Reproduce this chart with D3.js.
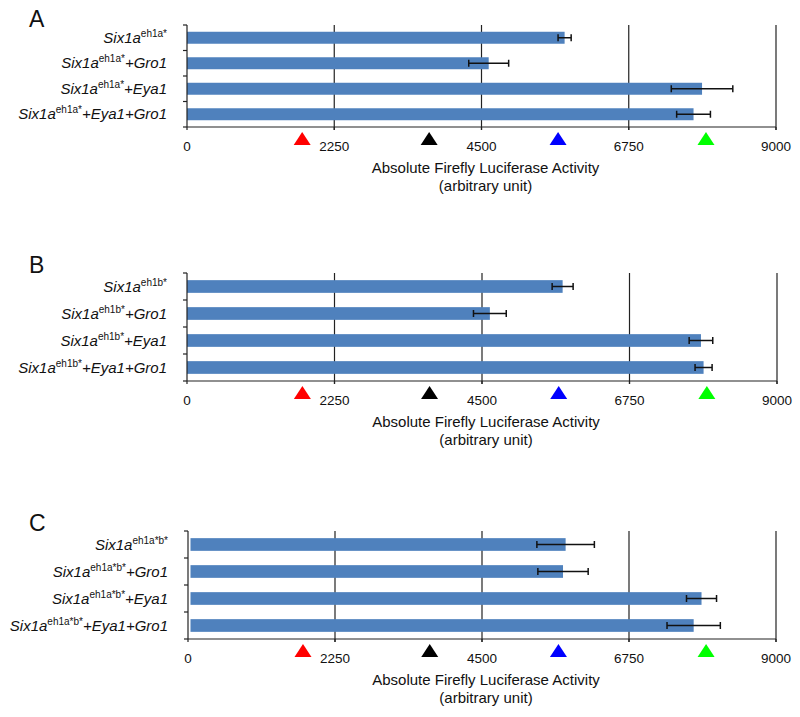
<!DOCTYPE html>
<html>
<head>
<meta charset="utf-8">
<script src="https://cdn.jsdelivr.net/npm/d3@7"></script>
<style>
  body { margin: 0; background: #fff; }
  svg { font-family: Arial, "Liberation Sans", sans-serif; }
</style>
</head>
<body>
<svg id="chart" width="800" height="717"></svg>
<script>
// values
const panels = ["A", "B", "C"];
const constructs = ["eh1a*", "eh1b*", "eh1a*b*"];
const conditions = ["", "+Gro1", "+Eya1", "+Eya1+Gro1"];
const meansA = [5770, 4610, 7870, 7740];
const errA = [100, 305, 470, 258];
const meansB = [5730, 4620, 7840, 7880];
const errB = [160, 250, 180, 130];
const meansC = [5780, 5740, 7860, 7740];
const errC = [440, 385, 230, 408];
const xTicks = [0, 2250, 4500, 6750, 9000];
const markerValues = [1760, 3700, 5670, 7930];
const markerColors = ["#ff0000", "#000000", "#0000ff", "#00ff00"];

const means = [meansA, meansB, meansC];
const errs = [errA, errB, errC];

// panel layout (plot top / bottom, x range, bar start offset)
const layout = [
  { top: 25, bottom: 127, x0: 187, x1: 776, barOff: 0 },
  { top: 273, bottom: 381, x0: 187, x1: 777, barOff: 0 },
  { top: 531, bottom: 639, x0: 188, x1: 776, barOff: 2.5 }
];

const svg = d3.select("#chart");

panels.forEach((p, i) => {
  const L = layout[i];
  const g = svg.append("g");

  const x = d3.scaleLinear().domain([0, 9000]).range([L.x0, L.x1]);
  const y = d3.scaleBand().domain(conditions).range([L.top, L.bottom])
    .paddingInner(0.53).paddingOuter(0.265);

  // panel letter
  g.append("text")
    .attr("x", 29).attr("y", L.top + (i == 0 ? 2 : 0))
    .attr("font-size", 23).attr("fill", "#111")
    .text(p);

  // vertical gridlines
  g.selectAll(".grid")
    .data(xTicks.slice(1))
    .join("line")
    .attr("x1", d => x(d)).attr("x2", d => x(d))
    .attr("y1", L.top).attr("y2", L.bottom + 3)
    .attr("stroke", "#222").attr("stroke-width", 1.2);

  // bars
  const rows = conditions.map((c, j) => ({ c: c, v: means[i][j], e: errs[i][j] }));
  g.selectAll(".bar")
    .data(rows)
    .join("rect")
    .attr("x", x(0) + L.barOff)
    .attr("y", d => y(d.c))
    .attr("width", d => x(d.v) - x(0) - L.barOff)
    .attr("height", y.bandwidth())
    .attr("fill", "#4f81bd");

  // error bars
  const eb = g.selectAll(".err").data(rows).join("g")
    .attr("stroke", "#111").attr("stroke-width", 1.5);
  eb.append("line")
    .attr("x1", d => x(d.v - d.e)).attr("x2", d => x(d.v + d.e))
    .attr("y1", d => y(d.c) + y.bandwidth() / 2)
    .attr("y2", d => y(d.c) + y.bandwidth() / 2);
  eb.append("line")
    .attr("x1", d => x(d.v - d.e)).attr("x2", d => x(d.v - d.e))
    .attr("y1", d => y(d.c) + y.bandwidth() / 2 - 3.5)
    .attr("y2", d => y(d.c) + y.bandwidth() / 2 + 3.5);
  eb.append("line")
    .attr("x1", d => x(d.v + d.e)).attr("x2", d => x(d.v + d.e))
    .attr("y1", d => y(d.c) + y.bandwidth() / 2 - 3.5)
    .attr("y2", d => y(d.c) + y.bandwidth() / 2 + 3.5);

  // y axis line with tick marks at band boundaries
  const bounds = conditions.map(c => y(c) - y.step() * y.paddingInner() / 2).concat([L.bottom]);
  g.append("line")
    .attr("x1", x(0)).attr("x2", x(0))
    .attr("y1", L.top).attr("y2", L.bottom)
    .attr("stroke", "#222").attr("stroke-width", 1.2);
  g.selectAll(".ytick").data(bounds).join("line")
    .attr("x1", x(0) - 4).attr("x2", x(0))
    .attr("y1", d => d).attr("y2", d => d)
    .attr("stroke", "#222").attr("stroke-width", 1.2);

  // x axis line
  g.append("line")
    .attr("x1", x(0)).attr("x2", x(9000))
    .attr("y1", L.bottom).attr("y2", L.bottom)
    .attr("stroke", "#222").attr("stroke-width", 1.2);
  g.selectAll(".xtick").data(xTicks).join("line")
    .attr("x1", d => x(d)).attr("x2", d => x(d))
    .attr("y1", L.bottom).attr("y2", L.bottom + 3)
    .attr("stroke", "#222").attr("stroke-width", 1.2);

  // tick labels
  g.selectAll(".xlab").data(xTicks).join("text")
    .attr("x", d => x(d)).attr("y", L.bottom + 24)
    .attr("text-anchor", "middle").attr("font-size", 13.5).attr("fill", "#111")
    .text(d => d);

  // category labels: Six1a^construct + condition
  const lab = g.selectAll(".ylab").data(rows).join("text")
    .attr("x", x(0) - 20)
    .attr("y", d => y(d.c) + y.bandwidth() / 2 + 5)
    .attr("text-anchor", "end").attr("fill", "#111");
  lab.append("tspan").attr("font-size", 15).attr("font-style", "italic").text("Six1a");
  lab.append("tspan").attr("font-size", 10).attr("dy", -6).text(constructs[i]);
  lab.append("tspan").attr("font-size", 15).attr("font-style", "italic").attr("dy", 6)
    .text(d => d.c);

  // triangle markers under the axis
  g.selectAll(".marker").data(markerValues).join("path")
    .attr("d", "M0,-6.5L8.5,6.5L-8.5,6.5Z")
    .attr("transform", d => `translate(${x(d)},${L.bottom + 11.5})`)
    .attr("fill", (d, k) => markerColors[k]);

  // axis title
  g.append("text")
    .attr("x", (x(0) + x(9000)) / 2 + 4).attr("y", L.bottom + 46)
    .attr("text-anchor", "middle").attr("font-size", 15).attr("fill", "#111")
    .text("Absolute Firefly Luciferase Activity");
  g.append("text")
    .attr("x", (x(0) + x(9000)) / 2 + 4).attr("y", L.bottom + 64)
    .attr("text-anchor", "middle").attr("font-size", 15).attr("fill", "#111")
    .text("(arbitrary unit)");
});
</script>
</body>
</html>
